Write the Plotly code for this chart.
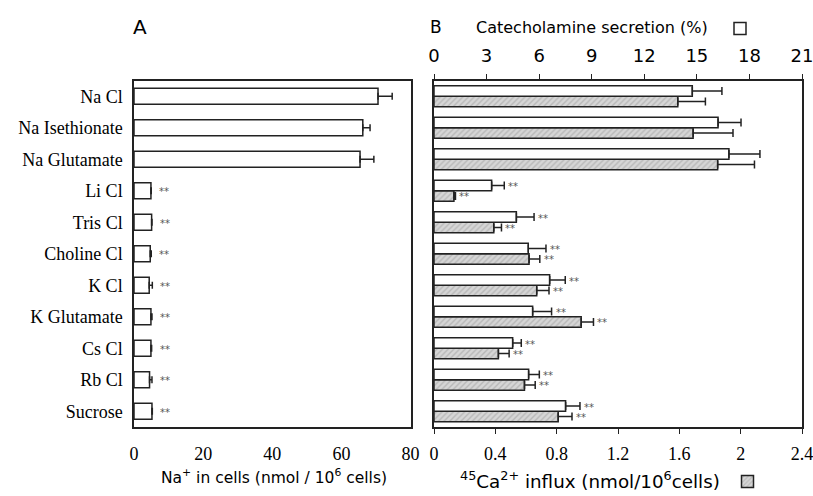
import plotly.graph_objects as go

categories = ["Na Cl", "Na Isethionate", "Na Glutamate", "Li Cl", "Tris Cl",
              "Choline Cl", "K Cl", "K Glutamate", "Cs Cl", "Rb Cl", "Sucrose"]

# Panel A: Na+ in cells (nmol/10^6 cells)
na_in_cells = [70.6, 66.2, 65.4, 4.9, 5.1, 4.7, 4.4, 4.9, 4.9, 4.5, 5.2]
na_err = [4.1, 2.1, 4.0, 0.1, 0.1, 0.3, 0.9, 0.3, 0.2, 0.7, 0.1]
na_sig = ["", "", "", "**", "**", "**", "**", "**", "**", "**", "**"]

# Panel B: catecholamine secretion (%) -- top axis
cat_secretion = [14.74, 16.21, 16.83, 3.29, 4.70, 5.38, 6.60, 5.63, 4.49, 5.40, 7.51]
cat_err = [1.69, 1.31, 1.77, 0.72, 1.01, 1.01, 0.89, 1.08, 0.49, 0.61, 0.82]
cat_sig = ["", "", "", "**", "**", "**", "**", "**", "**", "**", "**"]

# Panel B: 45Ca2+ influx (nmol/10^6 cells) -- bottom axis
ca_influx = [1.59, 1.69, 1.85, 0.13, 0.39, 0.62, 0.67, 0.96, 0.42, 0.59, 0.81]
ca_err = [0.18, 0.26, 0.24, 0.01, 0.05, 0.07, 0.08, 0.08, 0.07, 0.07, 0.09]
ca_sig = ["", "", "", "**", "**", "**", "**", "**", "**", "**", "**"]

na_ticks = [0, 20, 40, 60, 80]
na_minor_ticks = [40, 50, 60, 70, 80]
cat_ticks = [0, 3, 6, 9, 12, 15, 18, 21]
ca_ticks = [0, 0.4, 0.8, 1.2, 1.6, 2, 2.4]
ca_ticktext = ["0", "0.4", "0.8", "1.2", "1.6", "2", "2.4"]

W, H = 813, 496
def px(x):
    return x / W
def py(y):
    return 1 - y / H

SERIF = "Liberation Serif"
SANS = "DejaVu Sans"
INK = "#222222"
HATCH_BG = "#d6d6d6"
HATCH_FG = "#9a9a9a"

fig = go.Figure()

zeros = [0] * len(categories)

fig.add_trace(go.Bar(
    x=na_in_cells, y=categories, orientation="h", xaxis="x", yaxis="y",
    width=0.51,
    marker=dict(color="white", line=dict(color=INK, width=1.5)),
    error_x=dict(type="data", array=na_err, arrayminus=zeros, symmetric=False,
                 color=INK, thickness=1.5, width=3.5),
    showlegend=False, name="Na+ in cells",
))

fig.add_trace(go.Bar(
    x=cat_secretion, y=categories, orientation="h", xaxis="x3", yaxis="y2",
    width=0.33, offset=-0.33,
    marker=dict(color="white", line=dict(color=INK, width=1.5)),
    error_x=dict(type="data", array=cat_err, arrayminus=zeros, symmetric=False,
                 color=INK, thickness=1.5, width=4),
    name=" ", showlegend=True, legend="legend",
))

fig.add_trace(go.Bar(
    x=ca_influx, y=categories, orientation="h", xaxis="x2", yaxis="y2",
    width=0.33, offset=0,
    marker=dict(color=HATCH_BG, line=dict(color=INK, width=1.5),
                pattern=dict(shape="/", fgcolor=HATCH_FG, bgcolor=HATCH_BG,
                             size=4, solidity=0.35)),
    error_x=dict(type="data", array=ca_err, arrayminus=zeros, symmetric=False,
                 color=INK, thickness=1.5, width=4),
    name=" ", showlegend=True, legend="legend2",
))

annotations = []
star_font = dict(family=SANS, size=10, color="#555555")
for i, c in enumerate(categories):
    if na_sig[i]:
        annotations.append(dict(x=na_in_cells[i] + na_err[i], y=i, xref="x", yref="y",
                                text=na_sig[i], showarrow=False, xanchor="left",
                                xshift=6, yshift=-1, font=star_font))
    if cat_sig[i]:
        annotations.append(dict(x=cat_secretion[i] + cat_err[i], y=i - 0.165, xref="x3", yref="y2",
                                text=cat_sig[i], showarrow=False, xanchor="left",
                                xshift=2, yshift=-1, font=star_font))
    if ca_sig[i]:
        annotations.append(dict(x=ca_influx[i] + ca_err[i], y=i + 0.165, xref="x2", yref="y2",
                                text=ca_sig[i], showarrow=False, xanchor="left",
                                xshift=2, yshift=-1, font=star_font))

annotations += [
    dict(x=px(139.5), y=py(27), xref="paper", yref="paper", text="A", showarrow=False,
         xanchor="center", yanchor="middle", font=dict(family=SANS, size=20, color="black")),
    dict(x=px(436), y=py(27.5), xref="paper", yref="paper", text="B", showarrow=False,
         xanchor="center", yanchor="middle", font=dict(family=SANS, size=17, color="black")),
    dict(x=px(474), y=py(27.5), xref="paper", yref="paper", text="Catecholamine secretion (%)",
         showarrow=False, xanchor="left", yanchor="middle",
         font=dict(family=SANS, size=16, color="black")),
    dict(x=px(274), y=py(476), xref="paper", yref="paper",
         text="Na<sup>+</sup> in cells (nmol / 10<sup>6</sup> cells)",
         showarrow=False, xanchor="center", yanchor="middle",
         font=dict(family=SANS, size=15.5, color="black")),
    dict(x=px(590), y=py(480), xref="paper", yref="paper",
         text="<sup>45</sup>Ca<sup>2+</sup> influx (nmol/10<sup>6</sup>cells)",
         showarrow=False, xanchor="center", yanchor="middle",
         font=dict(family=SANS, size=18.3, color="black")),
]

y_dom = [py(427), py(80.5)]
axis_common = dict(showgrid=False, zeroline=False, linecolor=INK, linewidth=1.5,
                   tickcolor=INK, tickwidth=1.2, automargin=False,
                   ticklabeloverflow="allow")

fig.update_layout(
    width=W, height=H,
    margin=dict(l=0, r=0, t=0, b=0),
    paper_bgcolor="white", plot_bgcolor="white",
    barmode="overlay",
    xaxis=dict(domain=[px(134), px(410.5)], anchor="y", range=[0, 80],
               tickmode="array", tickvals=na_ticks, ticks="",
               showline=True, mirror=True, ticklabelstandoff=10,
               tickfont=dict(family=SERIF, size=18, color="black"), **axis_common),
    xaxis4=dict(overlaying="x", anchor="y", side="bottom", range=[0, 80],
                tickmode="array", tickvals=na_minor_ticks, ticks="outside", ticklen=5,
                showticklabels=False, showline=False, **axis_common),
    yaxis=dict(domain=y_dom, anchor="x", type="category", categoryorder="array",
               categoryarray=categories, range=[10.5, -0.5], ticks="",
               showline=True, mirror=True, ticklabelstandoff=6,
               tickfont=dict(family=SERIF, size=18, color="black"), **axis_common),
    xaxis2=dict(domain=[px(434), px(802)], anchor="y2", range=[0, 2.4],
                tickmode="array", tickvals=ca_ticks, ticktext=ca_ticktext,
                ticks="outside", ticklen=5, showline=True, mirror=True,
                ticklabelstandoff=5,
                tickfont=dict(family=SERIF, size=18, color="black"), **axis_common),
    xaxis3=dict(overlaying="x2", anchor="y2", side="top", range=[0, 21],
                tickmode="array", tickvals=cat_ticks,
                ticks="outside", ticklen=5, showline=True,
                ticklabelstandoff=5,
                tickfont=dict(family=SANS, size=18, color="black"), **axis_common),
    yaxis2=dict(domain=y_dom, anchor="x2", type="category", categoryorder="array",
                categoryarray=categories, range=[10.5, -0.5], ticks="",
                showticklabels=False, showline=True, mirror=True, **axis_common),
    legend=dict(x=px(720), y=py(28.5), xanchor="left", yanchor="middle",
                bgcolor="rgba(0,0,0,0)", borderwidth=0, font=dict(size=10)),
    legend2=dict(x=px(727.5), y=0, xanchor="left", yanchor="bottom",
                 bgcolor="rgba(0,0,0,0)", borderwidth=0, font=dict(size=6)),
    annotations=annotations,
)

fig.write_html("out.html", config={"displayModeBar": False},
               post_script="document.body.style.margin='0';document.body.style.overflow='hidden';")
